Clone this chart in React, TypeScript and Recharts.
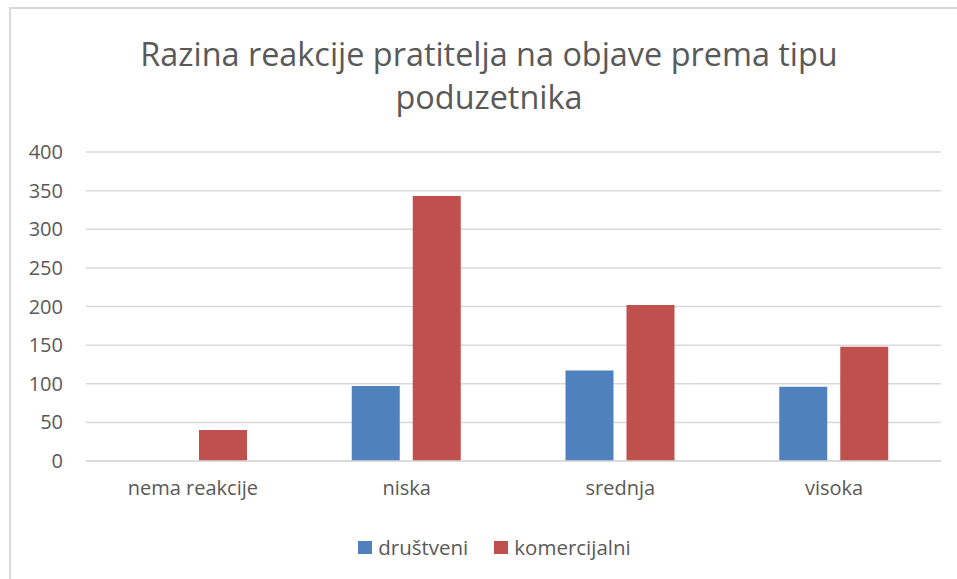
import React from 'react';
import { BarChart, Bar, XAxis, YAxis, CartesianGrid, Legend } from 'recharts';

const categories = ['nema reakcije', 'niska', 'srednja', 'visoka'];
const drustveni = [0, 97, 117, 96];
const komercijalni = [40, 343, 202, 148];
const yTicks = [0, 50, 100, 150, 200, 250, 300, 350, 400];
const seriesNames = ['društveni', 'komercijalni'];
const seriesColors = ['#4f81bd', '#c0504d'];
const titleLines = ['Razina reakcije pratitelja na objave prema tipu', 'poduzetnika'];

const data = categories.map((c, i) => ({
  name: c,
  drustveni: drustveni[i],
  komercijalni: komercijalni[i],
}));

const FONT = '"Open Sans", sans-serif';
const TEXT = '#595959';

const LegendContent = () => (
  <div style={{ display: 'flex', justifyContent: 'center', alignItems: 'center', fontFamily: FONT, fontSize: 20.5, color: TEXT }}>
    {seriesNames.map((n, i) => (
      <div key={n} style={{ display: 'flex', alignItems: 'center', marginLeft: i === 0 ? 0 : 26 }}>
        <span style={{ display: 'inline-block', width: 14, height: 13, background: seriesColors[i], marginRight: 6 }} />
        <span>{n}</span>
      </div>
    ))}
  </div>
);

export default function App() {
  return (
    <div style={{ position: 'absolute', left: 0, top: 0, width: 957, height: 579, overflow: 'hidden', background: '#fff' }}>
      <div style={{ position: 'absolute', left: 9, top: 7, width: 1200, height: 1200, borderTop: '2px solid #d9d9d9', borderLeft: '2px solid #d9d9d9', boxSizing: 'border-box' }} />
      <div style={{ position: 'absolute', left: 0, top: 32, width: 978, textAlign: 'center', fontFamily: FONT, fontSize: 32.4, lineHeight: '43px', color: TEXT }}>
        {titleLines.map((t) => (
          <div key={t}>{t}</div>
        ))}
      </div>
      <div style={{ position: 'absolute', left: 0, top: 0 }}>
        <BarChart width={957} height={579} data={data} margin={{ top: 152, right: 16, bottom: 88, left: 0 }} barSize={48} barGap={13}>
          <CartesianGrid vertical={false} stroke="#d9d9d9" strokeWidth={1.5} />
          <XAxis
            dataKey="name"
            height={30}
            axisLine={{ stroke: '#d9d9d9', strokeWidth: 1.5 }}
            tickLine={false}
            tickSize={0}
            tickMargin={20}
            tick={{ fill: TEXT, fontSize: 20, fontFamily: FONT }}
            interval={0}
          />
          <YAxis
            width={86}
            domain={[0, 400]}
            ticks={yTicks}
            axisLine={false}
            tickLine={false}
            tickSize={0}
            tickMargin={23}
            tick={{ fill: TEXT, fontSize: 20, fontFamily: FONT }}
            interval={0}
          />
          <Legend layout="horizontal" verticalAlign="middle" align="center" wrapperStyle={{ top: 533, left: 16, width: 957 }} content={<LegendContent />} />
          <Bar dataKey="drustveni" name={seriesNames[0]} fill={seriesColors[0]} isAnimationActive={false} />
          <Bar dataKey="komercijalni" name={seriesNames[1]} fill={seriesColors[1]} isAnimationActive={false} />
        </BarChart>
      </div>
    </div>
  );
}
